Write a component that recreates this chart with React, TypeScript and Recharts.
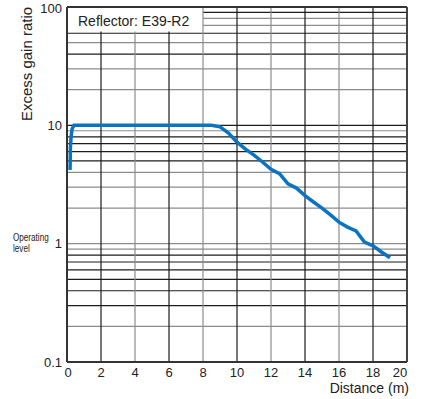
import {
  LineChart,
  Line,
  XAxis,
  YAxis,
  ReferenceLine,
} from 'recharts';

// Distance (m) vs excess gain ratio
const distance = [0.18, 0.2, 0.24, 0.3, 0.41, 8.5, 9.0, 9.5, 10.0, 10.5, 11.0, 11.5, 12.0, 12.5, 13.0, 13.5, 14.0, 14.5, 15.0, 15.5, 16.0, 16.5, 17.0, 17.5, 18.0, 18.5, 19.0];
const gainRatio = [4.2, 6.5, 8.0, 9.3, 10, 10, 9.7, 8.6, 7.2, 6.3, 5.6, 4.9, 4.25, 3.9, 3.2, 2.95, 2.55, 2.25, 2.0, 1.75, 1.52, 1.38, 1.28, 1.03, 0.96, 0.85, 0.76];

const xTicks = [0, 2, 4, 6, 8, 10, 12, 14, 16, 18, 20];
const yTicks = [0.1, 1, 10, 100];

// log grid lines and their tone (true = dark)
const gridY = [0.2, 0.3, 0.4, 0.5, 0.6, 0.7, 0.8, 0.9, 1, 2, 3, 4, 5, 6, 7, 8, 9, 10, 20, 30, 40, 50, 60, 70, 80, 90];
const gridYDark = [false, true, true, true, true, true, true, false, false, false, false, false, true, true, true, true, false, true, false, false, true, false, true, false, false, true];
const gridX = [2, 4, 6, 8, 10, 12, 14, 16, 18];
const gridXDark = [true, false, true, false, true, false, true, false, true];

// the white legend box in the top-left corner hides the grid behind it
const boxRight = 8;
const boxBottom = 62;

const data = distance.map((d, i) => ({ d, r: gainRatio[i] }));

const FONT = '"Liberation Sans", Arial, Helvetica, sans-serif';
const DARK = '#1c1c1c';
const GREY = '#8c8c8c';

const XTick = (props: any) => {
  const { x, y, payload } = props;
  let dx = 0;
  if (payload.value === 20) dx = -7;
  if (payload.value === 0) dx = 1;
  return (
    <text x={x + dx} y={y} dy="0.71em" textAnchor="middle" fontSize={13} fill="#222" fontFamily={FONT}>
      {payload.value}
    </text>
  );
};

export default function App() {
  return (
    <div style={{ position: 'absolute', left: 0, top: 0, width: 422, height: 399, background: '#fff' }}>
      <LineChart width={422} height={399} data={data} margin={{ top: 7, right: 15, bottom: 0, left: 0 }}>
        {gridY.map((v, i) =>
          v > boxBottom ? (
            <ReferenceLine
              key={'gy' + v}
              segment={[{ x: boxRight, y: v }, { x: 20, y: v }]}
              stroke={gridYDark[i] ? DARK : GREY}
              strokeWidth={1.2}
            />
          ) : (
            <ReferenceLine key={'gy' + v} y={v} stroke={gridYDark[i] ? DARK : GREY} strokeWidth={1.2} />
          )
        )}
        {gridX.map((v, i) =>
          v < boxRight ? (
            <ReferenceLine
              key={'gx' + v}
              segment={[{ x: v, y: 0.1 }, { x: v, y: boxBottom }]}
              stroke={gridXDark[i] ? DARK : GREY}
              strokeWidth={1.2}
            />
          ) : (
            <ReferenceLine key={'gx' + v} x={v} stroke={gridXDark[i] ? DARK : GREY} strokeWidth={1.2} />
          )
        )}
        <ReferenceLine y={100} stroke="#333" strokeWidth={2} />
        <ReferenceLine x={20} stroke="#444" strokeWidth={2} />
        <XAxis
          dataKey="d"
          type="number"
          domain={[0, 20]}
          ticks={xTicks}
          interval={0}
          height={37}
          tickSize={0}
          tickMargin={6}
          tick={<XTick />}
          axisLine={{ stroke: '#333', strokeWidth: 2 }}
        />
        <YAxis
          type="number"
          scale="log"
          domain={[0.1, 100]}
          ticks={yTicks}
          allowDataOverflow
          width={67}
          tickSize={0}
          tickMargin={5}
          tickFormatter={(v) => String(v)}
          tick={{ fontSize: 13, fill: '#222', fontFamily: FONT }}
          axisLine={{ stroke: '#333', strokeWidth: 2 }}
        />
        <Line
          dataKey="r"
          type="linear"
          stroke="#0a74c2"
          strokeWidth={3.5}
          dot={false}
          isAnimationActive={false}
        />
      </LineChart>
      <svg width={422} height={399} style={{ position: 'absolute', left: 0, top: 0, pointerEvents: 'none' }}>
        <text x={78} y={26} fontSize={14} fill="#222" fontFamily={FONT}>
          Reflector: E39-R2
        </text>
        <text x={32} y={64} transform="rotate(-90 32 64)" textAnchor="middle" fontSize={15} fill="#222" fontFamily={FONT}>
          Excess gain ratio
        </text>
        <text transform="translate(13 241) scale(0.74 1)" fontSize={11} fill="#222" fontFamily={FONT}>
          Operating
        </text>
        <text transform="translate(13 252) scale(0.74 1)" fontSize={11} fill="#222" fontFamily={FONT}>
          level
        </text>
        <text x={409} y={393} textAnchor="end" fontSize={14} fill="#222" fontFamily={FONT}>
          Distance (m)
        </text>
      </svg>
    </div>
  );
}
